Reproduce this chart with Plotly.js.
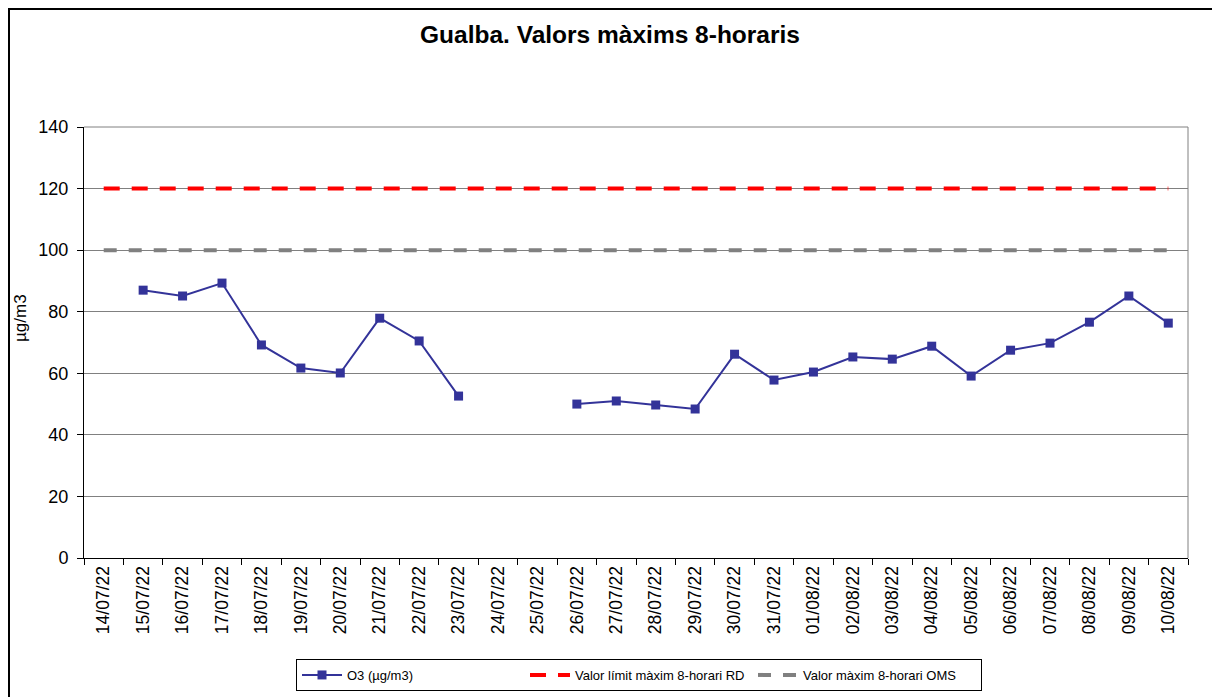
<!DOCTYPE html>
<html>
<head>
<meta charset="utf-8">
<script src="https://cdn.plot.ly/plotly-3.0.1.min.js"></script>
<style>
html,body{margin:0;padding:0;background:#fff;}
#wrap{position:relative;width:1212px;height:697px;overflow:hidden;}
#frame{position:absolute;left:8px;top:8px;width:1300px;height:800px;border-left:2px solid #000;border-top:2px solid #000;pointer-events:none;z-index:5;}
#chart{position:absolute;left:0;top:0;width:1212px;height:697px;}
</style>
</head>
<body>
<div id="wrap"><div id="chart"></div><div id="frame"></div></div>
<script>
const dates = ["14/07/22","15/07/22","16/07/22","17/07/22","18/07/22","19/07/22","20/07/22","21/07/22","22/07/22","23/07/22","24/07/22","25/07/22","26/07/22","27/07/22","28/07/22","29/07/22","30/07/22","31/07/22","01/08/22","02/08/22","03/08/22","04/08/22","05/08/22","06/08/22","07/08/22","08/08/22","09/08/22","10/08/22"];
const o3 = [null,87.0,85.1,89.3,69.2,61.7,60.1,77.9,70.5,52.6,null,null,50.0,51.0,49.7,48.4,66.2,57.8,60.4,65.3,64.6,68.8,59.1,67.5,69.8,76.6,85.1,76.3];
const limitRD = dates.map(() => 120);
const limitOMS = dates.map(() => 100);

const traces = [
  {x: dates, y: o3, name: "O3 (µg/m3)", type: "scatter", mode: "lines+markers",
   connectgaps: false,
   line: {color: "#333399", width: 2},
   marker: {symbol: "square", size: 9, color: "#333399"}},
  {x: dates, y: limitRD, name: "Valor límit màxim 8-horari RD", type: "scatter", mode: "lines",
   line: {color: "#FF0000", width: 4, dash: "16px,12px"}},
  {x: dates, y: limitOMS, name: "Valor màxim 8-horari OMS", type: "scatter", mode: "lines",
   line: {color: "#808080", width: 4, dash: "13px,12px"}}
];

const layout = {
  width: 1212, height: 697,
  paper_bgcolor: "#fff", plot_bgcolor: "#fff",
  margin: {l: 84, r: 24, t: 127, b: 139, autoexpand: false},
  font: {family: "Liberation Sans, Arial, sans-serif", color: "#000"},
  title: {text: "<b>Gualba. Valors màxims 8-horaris</b>", x: 610/1212, xref: "container", xanchor: "center",
          y: 1 - 34/697, yref: "container", yanchor: "middle", font: {size: 24.5, color: "#000"}},
  showlegend: true,
  legend: {orientation: "h", x: (296-84)/1104, xanchor: "left", y: (558-659)/431, yanchor: "top",
           bordercolor: "#000", borderwidth: 1, font: {size: 13}, itemwidth: 40,
           entrywidth: 173, entrywidthmode: "pixels", traceorder: "normal"},
  xaxis: {type: "category", range: [-0.5, 27.5], tickangle: -90, tickson: "boundaries",
          ticks: "outside", ticklen: 6, tickcolor: "#000", showline: true, linecolor: "#000", linewidth: 1,
          mirror: false, showgrid: false, tickfont: {size: 17.5}, fixedrange: true},
  yaxis: {range: [0, 140], dtick: 20, ticks: "outside", ticklen: 6, tickcolor: "#000",
          showline: true, linecolor: "#000", linewidth: 1, gridcolor: "#808080", gridwidth: 1,
          zeroline: false, tickfont: {size: 18}, ticklabelstandoff: 5, fixedrange: true},
  annotations: [
    {text: "µg/m3", xref: "paper", yref: "paper", x: (20-84)/1104, y: (558-318)/431,
     xanchor: "center", yanchor: "middle", textangle: -90, showarrow: false, font: {size: 17}}
  ],
  shapes: [
    {type: "line", xref: "paper", yref: "paper", x0: 1, x1: 1, y0: 0, y1: 1, line: {color: "#808080", width: 1}},
    {type: "line", xref: "paper", yref: "paper", x0: 0, x1: 1, y0: 1, y1: 1, line: {color: "#808080", width: 1}}
  ]
};

Plotly.newPlot("chart", traces, layout, {displayModeBar: false, staticPlot: true});
</script>
</body>
</html>
